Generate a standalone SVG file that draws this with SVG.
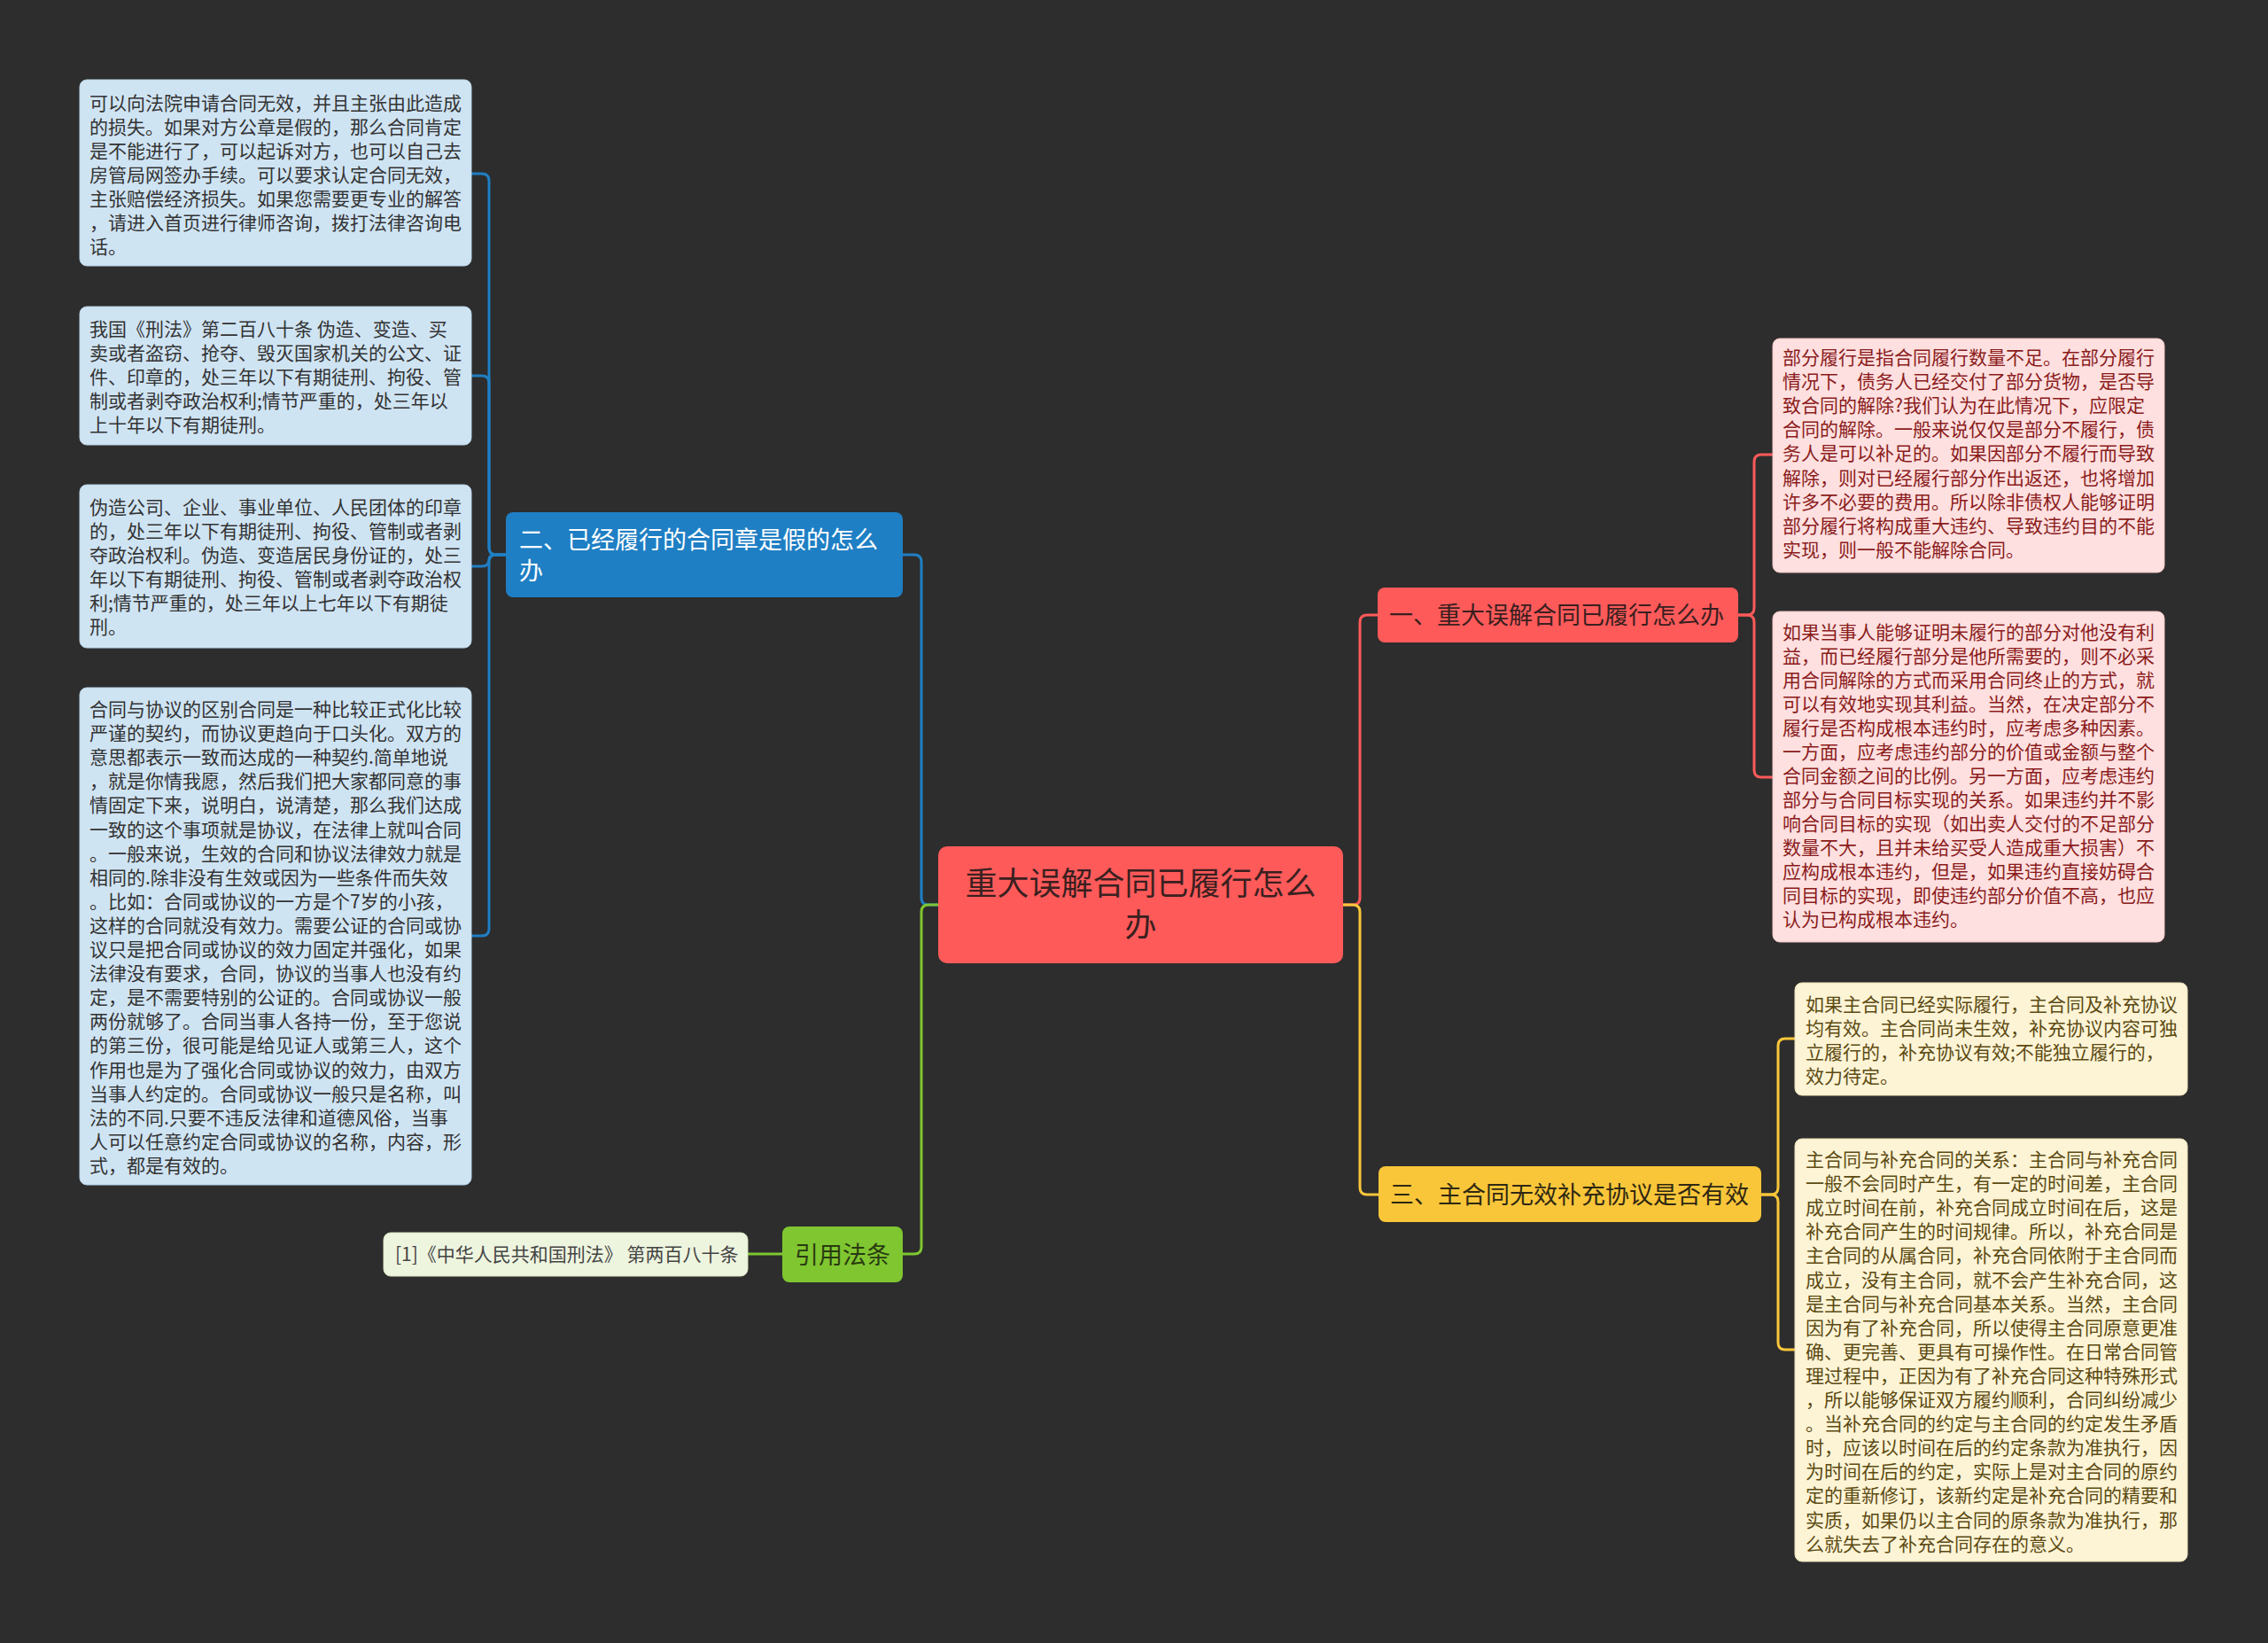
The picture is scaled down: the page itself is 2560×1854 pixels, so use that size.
<svg xmlns="http://www.w3.org/2000/svg" width="2560" height="1854" viewBox="0 0 2560 1854">
<style>
text{font-family:"Noto Sans CJK SC","Noto Sans",sans-serif;}
.c{fill:none;stroke-width:3;stroke-linecap:round;stroke-linejoin:round;}
.blue{stroke:#1f7fc4;}
.red{stroke:#ff5a5a;}
.yel{stroke:#f9c63a;}
.grn{stroke:#7fc631;}
.leafB{fill:#cfe4f3;stroke:#b9d3e6;stroke-width:1;}
.leafR{fill:#ffe0e0;stroke:#f0c4c4;stroke-width:1;}
.leafY{fill:#fdf4d6;stroke:#eadfb8;stroke-width:1;}
.leafG{fill:#eef5df;stroke:#d7e3c0;stroke-width:1;}
.tB{font-size:21px;fill:#333333;}
.tR{font-size:21px;fill:#8a1c1c;}
.tY{font-size:21px;fill:#5c4a12;}
.tG{font-size:21px;fill:#444444;}
.mid{font-size:27px;}
</style>
<rect width="2560" height="1854" fill="#2d2d2d"/>
<g id="connectors">
  <path class="c blue" d="M1059,1021 H1048 Q1040,1021 1040,1013 V634 Q1040,626 1032,626 H1019"/>
  <path class="c grn" d="M1059,1021 H1048 Q1040,1021 1040,1029 V1407 Q1040,1415 1032,1415 H1019"/>
  <path class="c red" d="M1516,1021 H1527 Q1535,1021 1535,1013 V702 Q1535,694 1543,694 H1555"/>
  <path class="c yel" d="M1516,1021 H1527 Q1535,1021 1535,1029 V1340 Q1535,1348 1543,1348 H1556"/>
  <path class="c blue" d="M571,626 H560 Q552,626 552,618 V204 Q552,196 544,196 H532"/>
  <path class="c blue" d="M571,626 H560 Q552,626 552,618 V432 Q552,424 544,424 H532"/>
  <path class="c blue" d="M571,626 H560 Q552,626 552,631 Q552,639 544,639 H532"/>
  <path class="c blue" d="M571,626 H560 Q552,626 552,634 V1048 Q552,1056 544,1056 H532"/>
  <path class="c red" d="M1962,694 H1972 Q1980,694 1980,686 V521 Q1980,513 1988,513 H2000"/>
  <path class="c red" d="M1962,694 H1972 Q1980,694 1980,702 V869 Q1980,877 1988,877 H2000"/>
  <path class="c yel" d="M1988,1348 H1999 Q2007,1348 2007,1340 V1180 Q2007,1172 2015,1172 H2026"/>
  <path class="c yel" d="M1988,1348 H1999 Q2007,1348 2007,1356 V1515 Q2007,1523 2015,1523 H2026"/>
  <path class="c grn" d="M844,1415 H883"/>
</g>
<g id="root">
  <rect x="1059" y="955" width="457" height="132" rx="10" fill="#ff5a5a"/>
  <text x="1287.5" y="1010" text-anchor="middle" font-size="36" fill="#3a2020">重大误解合同已履行怎么</text>
  <text x="1287.5" y="1057" text-anchor="middle" font-size="36" fill="#3a2020">办</text>
</g>
<g id="n1">
  <rect x="1555" y="663" width="407" height="62" rx="8" fill="#ff5a5a"/>
  <text class="mid" x="1568" y="704" fill="#3a1f1f">一、重大误解合同已履行怎么办</text>
</g>
<g id="n2">
  <rect x="571" y="578" width="448" height="96" rx="8" fill="#1f7fc4"/>
  <text class="mid" x="586" y="619" fill="#ffffff">二、已经履行的合同章是假的怎么</text>
  <text class="mid" x="586" y="654" fill="#ffffff">办</text>
</g>
<g id="n3">
  <rect x="1556" y="1316" width="432" height="63" rx="8" fill="#f9c63a"/>
  <text class="mid" x="1569" y="1358" fill="#2f2812">三、主合同无效补充协议是否有效</text>
</g>
<g id="n4">
  <rect x="883" y="1384" width="136" height="63" rx="8" fill="#7fc631"/>
  <text x="951" y="1426" text-anchor="middle" font-size="27" fill="#2a3a10">引用法条</text>
</g>
<g id="ref">
  <rect class="leafG" x="433" y="1391" width="411" height="49" rx="8"/>
  <text class="tG" x="446" y="1423">[1]《中华人民共和国刑法》 第两百八十条</text>
</g>
<g id="l1">
  <rect class="leafB" x="90" y="90" width="442" height="210" rx="8"/>
  <text class="tB" x="101">
    <tspan x="101" y="124">可以向法院申请合同无效，并且主张由此造成</tspan>
    <tspan x="101" y="151">的损失。如果对方公章是假的，那么合同肯定</tspan>
    <tspan x="101" y="178">是不能进行了，可以起诉对方，也可以自己去</tspan>
    <tspan x="101" y="205">房管局网签办手续。可以要求认定合同无效，</tspan>
    <tspan x="101" y="232">主张赔偿经济损失。如果您需要更专业的解答</tspan>
    <tspan x="101" y="259">，请进入首页进行律师咨询，拨打法律咨询电</tspan>
    <tspan x="101" y="286">话。</tspan>
  </text>
</g>
<g id="l2">
  <rect class="leafB" x="90" y="346" width="442" height="156" rx="8"/>
  <text class="tB">
    <tspan x="101" y="379">我国《刑法》第二百八十条 伪造、变造、买</tspan>
    <tspan x="101" y="406">卖或者盗窃、抢夺、毁灭国家机关的公文、证</tspan>
    <tspan x="101" y="433">件、印章的，处三年以下有期徒刑、拘役、管</tspan>
    <tspan x="101" y="460">制或者剥夺政治权利;情节严重的，处三年以</tspan>
    <tspan x="101" y="487">上十年以下有期徒刑。</tspan>
  </text>
</g>
<g id="l3">
  <rect class="leafB" x="90" y="547" width="442" height="184" rx="8"/>
  <text class="tB">
    <tspan x="101" y="580">伪造公司、企业、事业单位、人民团体的印章</tspan>
    <tspan x="101" y="607">的，处三年以下有期徒刑、拘役、管制或者剥</tspan>
    <tspan x="101" y="634">夺政治权利。伪造、变造居民身份证的，处三</tspan>
    <tspan x="101" y="661">年以下有期徒刑、拘役、管制或者剥夺政治权</tspan>
    <tspan x="101" y="688">利;情节严重的，处三年以上七年以下有期徒</tspan>
    <tspan x="101" y="715">刑。</tspan>
  </text>
</g>
<g id="l4">
  <rect class="leafB" x="90" y="776" width="442" height="561" rx="8"/>
  <text class="tB">
    <tspan x="101" y="808">合同与协议的区别合同是一种比较正式化比较</tspan>
    <tspan x="101" y="835">严谨的契约，而协议更趋向于口头化。双方的</tspan>
    <tspan x="101" y="862">意思都表示一致而达成的一种契约.简单地说</tspan>
    <tspan x="101" y="889">，就是你情我愿，然后我们把大家都同意的事</tspan>
    <tspan x="101" y="916">情固定下来，说明白，说清楚，那么我们达成</tspan>
    <tspan x="101" y="944">一致的这个事项就是协议，在法律上就叫合同</tspan>
    <tspan x="101" y="971">。一般来说，生效的合同和协议法律效力就是</tspan>
    <tspan x="101" y="998">相同的.除非没有生效或因为一些条件而失效</tspan>
    <tspan x="101" y="1025">。比如：合同或协议的一方是个7岁的小孩，</tspan>
    <tspan x="101" y="1052">这样的合同就没有效力。需要公证的合同或协</tspan>
    <tspan x="101" y="1079">议只是把合同或协议的效力固定并强化，如果</tspan>
    <tspan x="101" y="1106">法律没有要求，合同，协议的当事人也没有约</tspan>
    <tspan x="101" y="1133">定，是不需要特别的公证的。合同或协议一般</tspan>
    <tspan x="101" y="1160">两份就够了。合同当事人各持一份，至于您说</tspan>
    <tspan x="101" y="1187">的第三份，很可能是给见证人或第三人，这个</tspan>
    <tspan x="101" y="1215">作用也是为了强化合同或协议的效力，由双方</tspan>
    <tspan x="101" y="1242">当事人约定的。合同或协议一般只是名称，叫</tspan>
    <tspan x="101" y="1269">法的不同.只要不违反法律和道德风俗，当事</tspan>
    <tspan x="101" y="1296">人可以任意约定合同或协议的名称，内容，形</tspan>
    <tspan x="101" y="1323">式，都是有效的。</tspan>
  </text>
</g>
<g id="r1">
  <rect class="leafR" x="2001" y="382" width="442" height="264" rx="8"/>
  <text class="tR">
    <tspan x="2012" y="411">部分履行是指合同履行数量不足。在部分履行</tspan>
    <tspan x="2012" y="438">情况下，债务人已经交付了部分货物，是否导</tspan>
    <tspan x="2012" y="465">致合同的解除?我们认为在此情况下，应限定</tspan>
    <tspan x="2012" y="492">合同的解除。一般来说仅仅是部分不履行，债</tspan>
    <tspan x="2012" y="519">务人是可以补足的。如果因部分不履行而导致</tspan>
    <tspan x="2012" y="547">解除，则对已经履行部分作出返还，也将增加</tspan>
    <tspan x="2012" y="574">许多不必要的费用。所以除非债权人能够证明</tspan>
    <tspan x="2012" y="601">部分履行将构成重大违约、导致违约目的不能</tspan>
    <tspan x="2012" y="628">实现，则一般不能解除合同。</tspan>
  </text>
</g>
<g id="r2">
  <rect class="leafR" x="2001" y="690" width="442" height="373" rx="8"/>
  <text class="tR">
    <tspan x="2012" y="721">如果当事人能够证明未履行的部分对他没有利</tspan>
    <tspan x="2012" y="748">益，而已经履行部分是他所需要的，则不必采</tspan>
    <tspan x="2012" y="775">用合同解除的方式而采用合同终止的方式，就</tspan>
    <tspan x="2012" y="802">可以有效地实现其利益。当然，在决定部分不</tspan>
    <tspan x="2012" y="829">履行是否构成根本违约时，应考虑多种因素。</tspan>
    <tspan x="2012" y="856">一方面，应考虑违约部分的价值或金额与整个</tspan>
    <tspan x="2012" y="883">合同金额之间的比例。另一方面，应考虑违约</tspan>
    <tspan x="2012" y="910">部分与合同目标实现的关系。如果违约并不影</tspan>
    <tspan x="2012" y="937">响合同目标的实现（如出卖人交付的不足部分</tspan>
    <tspan x="2012" y="964">数量不大，且并未给买受人造成重大损害）不</tspan>
    <tspan x="2012" y="991">应构成根本违约，但是，如果违约直接妨碍合</tspan>
    <tspan x="2012" y="1018">同目标的实现，即使违约部分价值不高，也应</tspan>
    <tspan x="2012" y="1045">认为已构成根本违约。</tspan>
  </text>
</g>
<g id="y1">
  <rect class="leafY" x="2026" y="1109" width="443" height="127" rx="8"/>
  <text class="tY">
    <tspan x="2038" y="1141">如果主合同已经实际履行，主合同及补充协议</tspan>
    <tspan x="2038" y="1168">均有效。主合同尚未生效，补充协议内容可独</tspan>
    <tspan x="2038" y="1195">立履行的，补充协议有效;不能独立履行的，</tspan>
    <tspan x="2038" y="1222">效力待定。</tspan>
  </text>
</g>
<g id="y2">
  <rect class="leafY" x="2026" y="1285" width="443" height="477" rx="8"/>
  <text class="tY">
    <tspan x="2038" y="1316">主合同与补充合同的关系：主合同与补充合同</tspan>
    <tspan x="2038" y="1343">一般不会同时产生，有一定的时间差，主合同</tspan>
    <tspan x="2038" y="1370">成立时间在前，补充合同成立时间在后，这是</tspan>
    <tspan x="2038" y="1397">补充合同产生的时间规律。所以，补充合同是</tspan>
    <tspan x="2038" y="1424">主合同的从属合同，补充合同依附于主合同而</tspan>
    <tspan x="2038" y="1452">成立，没有主合同，就不会产生补充合同，这</tspan>
    <tspan x="2038" y="1479">是主合同与补充合同基本关系。当然，主合同</tspan>
    <tspan x="2038" y="1506">因为有了补充合同，所以使得主合同原意更准</tspan>
    <tspan x="2038" y="1533">确、更完善、更具有可操作性。在日常合同管</tspan>
    <tspan x="2038" y="1560">理过程中，正因为有了补充合同这种特殊形式</tspan>
    <tspan x="2038" y="1587">，所以能够保证双方履约顺利，合同纠纷减少</tspan>
    <tspan x="2038" y="1614">。当补充合同的约定与主合同的约定发生矛盾</tspan>
    <tspan x="2038" y="1641">时，应该以时间在后的约定条款为准执行，因</tspan>
    <tspan x="2038" y="1668">为时间在后的约定，实际上是对主合同的原约</tspan>
    <tspan x="2038" y="1695">定的重新修订，该新约定是补充合同的精要和</tspan>
    <tspan x="2038" y="1723">实质，如果仍以主合同的原条款为准执行，那</tspan>
    <tspan x="2038" y="1750">么就失去了补充合同存在的意义。</tspan>
  </text>
</g>
</svg>
